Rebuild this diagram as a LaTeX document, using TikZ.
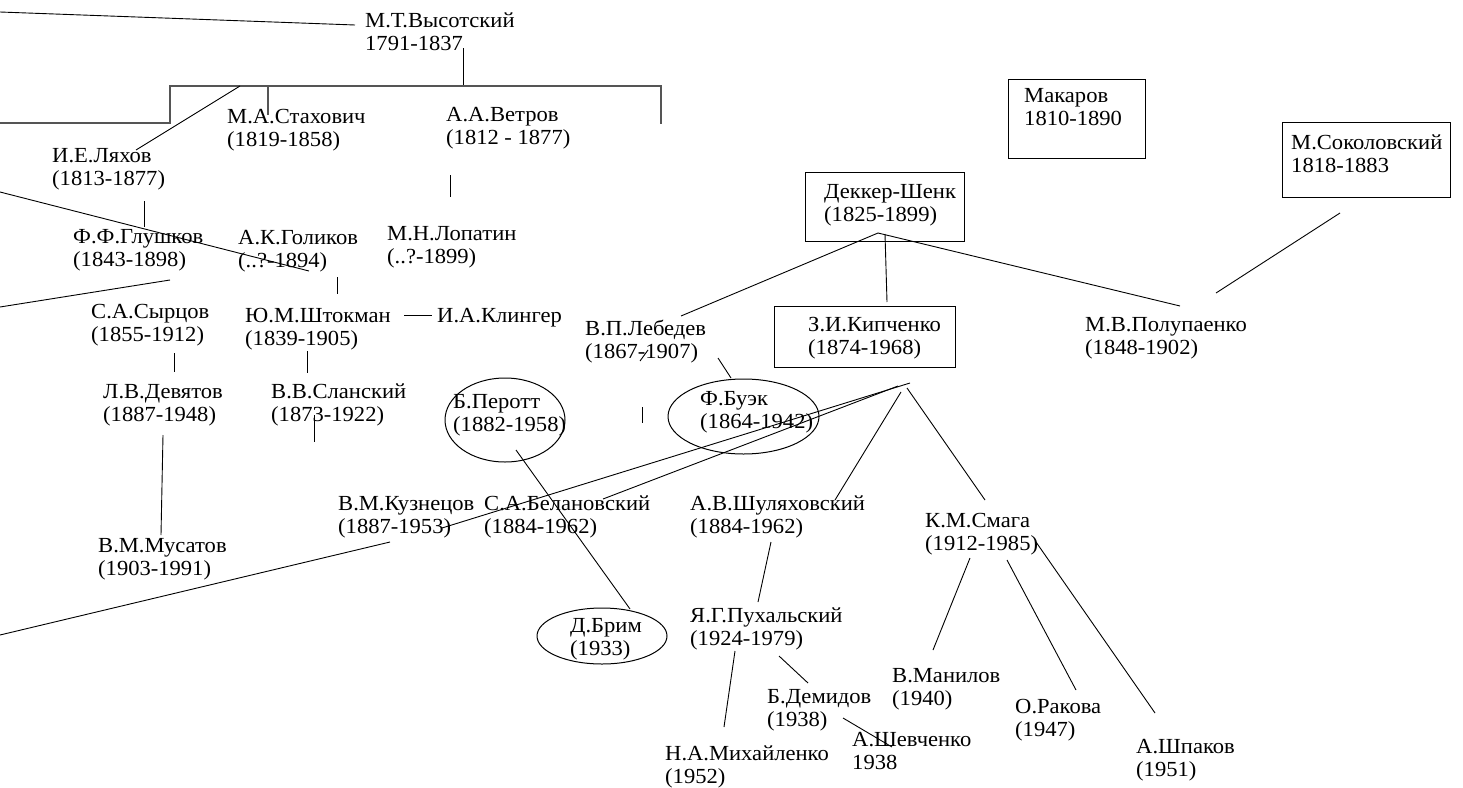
\documentclass[tikz,border=0pt]{standalone}
\usepackage{fontspec}
\setmainfont{Liberation Serif}[FakeStretch=1.05]
\usetikzlibrary{shapes.geometric}
\definecolor{brkgray}{RGB}{85,85,85}
\begin{document}
\begin{tikzpicture}[x=1pt,y=-1pt,
  lbl/.style={inner sep=0pt, anchor=north west, align=left, font=\fontsize{21.5}{23.5}\selectfont, yshift=16.45pt},
  ln/.style={line width=0.9pt, black},
  brk/.style={line width=1.6pt, brkgray},
  box/.style={draw, line width=1.2pt, inner sep=0pt, anchor=north west},
  oval/.style={draw, ellipse, line width=1pt, inner sep=0pt}]
\useasboundingbox (0,0) rectangle (1463,787);
% labels
\node[lbl] (vys) at (365,27) {\strut М.Т.Высотский\\\strut 1791-1837};
\node[lbl] (stah) at (227,123) {\strut М.А.Стахович\\\strut (1819-1858)};
\node[lbl] (vetr) at (446,121) {\strut А.А.Ветров\\\strut (1812 - 1877)};
\node[lbl] (lyah) at (52,162) {\strut И.Е.Ляхов\\\strut (1813-1877)};
\node[lbl] (glush) at (73,243) {\strut Ф.Ф.Глушков\\\strut (1843-1898)};
\node[lbl] (golik) at (238,244) {\strut А.К.Голиков\\\strut (..?-1894)};
\node[lbl] (lopat) at (387,240) {\strut М.Н.Лопатин\\\strut (..?-1899)};
\node[lbl] (syrc) at (91,318) {\strut С.А.Сырцов\\\strut (1855-1912)};
\node[lbl] (shtok) at (245,322) {\strut Ю.М.Штокман\\\strut (1839-1905)};
\node[lbl] (kling) at (437,322) {\strut И.А.Клингер};
\node[lbl] (lebed) at (585,335) {\strut В.П.Лебедев\\\strut (1867-1907)};
\node[lbl] (devy) at (103,398) {\strut Л.В.Девятов\\\strut (1887-1948)};
\node[lbl] (slan) at (271,398) {\strut В.В.Сланский\\\strut (1873-1922)};
\node[lbl] (perott) at (453,408) {\strut Б.Перотт\\\strut (1882-1958)};
\node[lbl] (buek) at (700,405) {\strut Ф.Буэк\\\strut (1864-1942)};
\node[lbl] (kuzn) at (338,510) {\strut В.М.Кузнецов\\\strut (1887-1953)};
\node[lbl] (belan) at (484,510) {\strut С.А.Белановский\\\strut (1884-1962)};
\node[lbl] (shul) at (690,510) {\strut А.В.Шуляховский\\\strut (1884-1962)};
\node[lbl] (musat) at (98,552) {\strut В.М.Мусатов\\\strut (1903-1991)};
\node[lbl] (brim) at (570,632) {\strut Д.Брим\\\strut (1933)};
\node[lbl] (puh) at (690,622) {\strut Я.Г.Пухальский\\\strut (1924-1979)};
\node[lbl] (demid) at (767,703) {\strut Б.Демидов\\\strut (1938)};
\node[lbl] (mihail) at (665,760) {\strut Н.А.Михайленко\\\strut (1952)};
\node[lbl] (shevch) at (852,746) {\strut А.Шевченко\\\strut 1938};
\node[lbl] (smaga) at (925,527) {\strut К.М.Смага\\\strut (1912-1985)};
\node[lbl] (manil) at (892,682) {\strut В.Манилов\\\strut (1940)};
\node[lbl] (rakova) at (1015,713) {\strut О.Ракова\\\strut (1947)};
\node[lbl] (shpak) at (1136,753) {\strut А.Шпаков\\\strut (1951)};
\node[lbl] (makar) at (1024,102) {\strut Макаров\\\strut 1810-1890};
\node[lbl] (sokol) at (1291,149) {\strut М.Соколовский\\\strut 1818-1883};
\node[lbl] (dekker) at (824,198) {\strut Деккер-Шенк\\\strut (1825-1899)};
\node[lbl] (kipch) at (808,331) {\strut З.И.Кипченко\\\strut (1874-1968)};
\node[lbl] (polup) at (1085,331) {\strut М.В.Полупаенко\\\strut (1848-1902)};
% boxes
\node[box, minimum width=137pt, minimum height=79pt] (makarbox) at (1008,79) {};
\node[box, minimum width=168pt, minimum height=75pt] (sokolbox) at (1282,122) {};
\node[box, minimum width=159pt, minimum height=69pt] (dekkerbox) at (805,172) {};
\node[box, minimum width=181pt, minimum height=61pt] (kipchbox) at (774,306) {};
% ellipses
\node[oval, minimum width=120pt, minimum height=84pt] (perottov) at (505,420) {};
\node[oval, minimum width=151pt, minimum height=75pt] (buekov) at (743.5,416.5) {};
\node[oval, minimum width=130pt, minimum height=56pt] (brimov) at (602,636) {};
% connector end points
\coordinate (tl) at (0,12);
\coordinate (vysL) at (355,25);
\coordinate (vysB) at (463,48);
\coordinate (brTop) at (463,85);
\coordinate (brL) at (170,86);
\coordinate (brR) at (661,86);
\coordinate (brRend) at (661,124);
\coordinate (brLend) at (170,123);
\coordinate (leftH) at (0,123);
\coordinate (stahT) at (268,86);
\coordinate (stahB) at (268,115);
\coordinate (lyahT) at (240,86);
\coordinate (lyahE) at (136,150);
\coordinate (vetrA) at (450,175);
\coordinate (vetrB) at (450,197);
\coordinate (leftD) at (0,192);
\coordinate (golikE) at (309,271);
\coordinate (lyahB) at (144,201);
\coordinate (glushT) at (144,227);
\coordinate (golikB) at (337,277);
\coordinate (golikC) at (337,294);
\coordinate (leftG) at (0,307);
\coordinate (glushB) at (170,280);
\coordinate (shtokR) at (404,315);
\coordinate (klingL) at (432,315);
\coordinate (syrcB) at (174,353);
\coordinate (syrcC) at (174,372);
\coordinate (shtokB) at (307,351);
\coordinate (shtokC) at (307,373);
\coordinate (slanA) at (314,415);
\coordinate (slanB) at (314,442);
\coordinate (devyB) at (163,435);
\coordinate (musatT) at (161,535);
\coordinate (lebA) at (642,407);
\coordinate (lebB) at (642,423);
\coordinate (dekA) at (878,233);
\coordinate (dekB) at (885,234);
\coordinate (lebT) at (681,316);
\coordinate (kipT) at (887,302);
\coordinate (polT) at (1180,306);
\coordinate (sokB) at (1340,213);
\coordinate (polR) at (1216,293);
\coordinate (slA) at (640,361);
\coordinate (slB) at (648,350);
\coordinate (lebC) at (718,358);
\coordinate (buekT) at (731,378);
\coordinate (perB) at (516,450);
\coordinate (brimT) at (630,609);
\coordinate (apex1) at (910,383);
\coordinate (apex2) at (898,386);
\coordinate (apex3) at (901,392);
\coordinate (apex4) at (907,388);
\coordinate (kuznR) at (442,528);
\coordinate (belanT) at (603,499);
\coordinate (shulT) at (835,500);
\coordinate (smagaT) at (985,500);
\coordinate (kuznB) at (390,542);
\coordinate (leftK) at (0,635);
\coordinate (shulB) at (771,542);
\coordinate (puhT) at (758,602);
\coordinate (puhB1) at (735,651);
\coordinate (mihT) at (724,727);
\coordinate (puhB2) at (779,656);
\coordinate (demT) at (808,683);
\coordinate (demB) at (843,718);
\coordinate (shevT) at (892,747);
\coordinate (smB1) at (970,558);
\coordinate (manT) at (933,650);
\coordinate (smB2) at (1007,560);
\coordinate (rakT) at (1076,690);
\coordinate (smB3) at (1036,542);
\coordinate (shpT) at (1155,713);
% connectors
\draw[ln] (tl) -- (vysL);
\draw[ln] (vysB) -- (brTop);
\draw[brk] (leftH) -- (brLend) -- (brL) -- (brR) -- (brRend);
\draw[brk] (stahT) -- (stahB);
\draw[ln] (lyahT) -- (lyahE);
\draw[ln] (vetrA) -- (vetrB);
\draw[ln] (leftD) -- (golikE);
\draw[ln] (lyahB) -- (glushT);
\draw[ln] (golikB) -- (golikC);
\draw[ln] (leftG) -- (glushB);
\draw[ln] (shtokR) -- (klingL);
\draw[ln] (syrcB) -- (syrcC);
\draw[ln] (shtokB) -- (shtokC);
\draw[ln] (slanA) -- (slanB);
\draw[ln] (devyB) -- (musatT);
\draw[ln] (lebA) -- (lebB);
\draw[ln] (dekA) -- (lebT);
\draw[ln] (dekB) -- (kipT);
\draw[ln] (dekA) -- (polT);
\draw[ln] (sokB) -- (polR);
\draw[ln] (slA) -- (slB);
\draw[ln] (lebC) -- (buekT);
\draw[ln] (perB) -- (brimT);
\draw[ln] (apex1) -- (kuznR);
\draw[ln] (apex2) -- (belanT);
\draw[ln] (apex3) -- (shulT);
\draw[ln] (apex4) -- (smagaT);
\draw[ln] (kuznB) -- (leftK);
\draw[ln] (shulB) -- (puhT);
\draw[ln] (puhB1) -- (mihT);
\draw[ln] (puhB2) -- (demT);
\draw[ln] (demB) -- (shevT);
\draw[ln] (smB1) -- (manT);
\draw[ln] (smB2) -- (rakT);
\draw[ln] (smB3) -- (shpT);
\end{tikzpicture}
\end{document}
